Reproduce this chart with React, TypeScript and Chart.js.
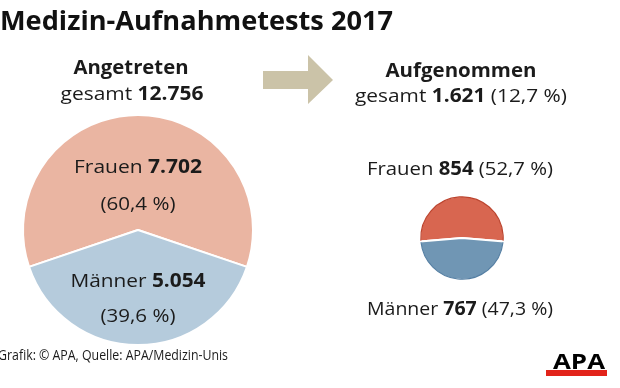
import React, { useEffect, useRef } from "react";
import { Chart, registerables } from "chart.js";
Chart.register(...registerables);

const title = "Medizin-Aufnahmetests 2017";
const groups = ["Frauen", "Männer"];
const enteredValues = [7702, 5054];
const enteredShares = ["60,4 %", "39,6 %"];
const admittedValues = [854, 767];
const admittedShares = ["52,7 %", "47,3 %"];
const enteredTotal = "12.756";
const admittedTotal = "1.621";
const admittedRate = "12,7 %";
const enteredHeading = "Angetreten";
const admittedHeading = "Aufgenommen";
const sourceText = "Grafik: © APA, Quelle: APA/Medizin-Unis";
const logoText = "APA";

const enteredColors = ["#EAB5A2", "#B5CBDC"];
const admittedColors = ["#D86650", "#7096B4"];
const admittedRims = ["#BC442E", "#557FA3"];

const FAM = '"Open Sans", "DejaVu Sans", sans-serif';

const fmt = (n: number) => String(n).replace(/\B(?=(\d{3})+(?!\d))/g, ".");

type Seg = [string, boolean];

function drawLine(
  ctx: CanvasRenderingContext2D,
  segs: Seg[],
  x: number,
  baseline: number,
  size: number,
  target: number,
  align: "center" | "left" = "center",
  color = "#1b1b1b"
) {
  const widths = segs.map(([t, b]) => {
    ctx.font = `${b ? "bold " : ""}${size}px ${FAM}`;
    return ctx.measureText(t).width;
  });
  const total = widths.reduce((a, b) => a + b, 0);
  const s = target / total;
  ctx.save();
  const x0 = align === "center" ? x - target / 2 : x;
  ctx.translate(x0, baseline);
  ctx.scale(s, 1);
  ctx.fillStyle = color;
  ctx.textAlign = "left";
  ctx.textBaseline = "alphabetic";
  let cx = 0;
  segs.forEach(([t, b], i) => {
    ctx.font = `${b ? "bold " : ""}${size}px ${FAM}`;
    ctx.fillText(t, cx, 0);
    cx += widths[i];
  });
  ctx.restore();
}

// thin darker rim along the outer edge of each slice (as in the reference)
const rimPlugin = {
  id: "rim",
  afterDatasetsDraw(chart: any) {
    const ctx: CanvasRenderingContext2D = chart.ctx;
    const meta = chart.getDatasetMeta(0);
    meta.data.forEach((arc: any, i: number) => {
      const { x, y, startAngle, endAngle, outerRadius } = arc.getProps(
        ["x", "y", "startAngle", "endAngle", "outerRadius"],
        true
      );
      ctx.save();
      ctx.strokeStyle = admittedRims[i];
      ctx.lineWidth = 1.2;
      ctx.beginPath();
      ctx.arc(x, y, outerRadius - 0.8, startAngle + 0.02, endAngle - 0.02);
      ctx.stroke();
      ctx.restore();
    });
  },
};

const decorPlugin = {
  id: "decor",
  afterDatasetsDraw(chart: any) {
    const ctx: CanvasRenderingContext2D = chart.ctx;
    drawLine(ctx, [[title, true]], 0, 30, 27, 393, "left", "#111");
    drawLine(ctx, [[enteredHeading, true]], 131, 74, 19, 115);
    drawLine(ctx, [["gesamt ", false], [enteredTotal, true]], 132, 100, 19, 143);
    drawLine(ctx, [[admittedHeading, true]], 461, 77, 19, 151);
    drawLine(
      ctx,
      [["gesamt ", false], [admittedTotal, true], [` (${admittedRate})`, false]],
      461,
      102,
      19,
      212
    );
    drawLine(ctx, [[groups[0] + " ", false], [fmt(enteredValues[0]), true]], 138, 173, 19, 128);
    drawLine(ctx, [[`(${enteredShares[0]})`, false]], 138, 210, 19, 75);
    drawLine(ctx, [[groups[1] + " ", false], [fmt(enteredValues[1]), true]], 138, 287, 19, 135);
    drawLine(ctx, [[`(${enteredShares[1]})`, false]], 138, 322, 19, 75);
    drawLine(
      ctx,
      [[groups[0] + " ", false], [fmt(admittedValues[0]), true], [` (${admittedShares[0]})`, false]],
      460,
      175,
      19,
      186
    );
    drawLine(
      ctx,
      [[groups[1] + " ", false], [fmt(admittedValues[1]), true], [` (${admittedShares[1]})`, false]],
      460,
      315,
      19,
      186
    );
    drawLine(ctx, [[sourceText, false]], -2, 360, 14, 230, "left", "#1b1b1b");
    ctx.save();
    ctx.fillStyle = "#CBC3A8";
    ctx.beginPath();
    ctx.moveTo(263, 71);
    ctx.lineTo(308, 71);
    ctx.lineTo(308, 55);
    ctx.lineTo(333, 80);
    ctx.lineTo(308, 104);
    ctx.lineTo(308, 89);
    ctx.lineTo(263, 89);
    ctx.closePath();
    ctx.fill();
    ctx.fillStyle = "#E2231A";
    ctx.fillRect(546, 370, 61, 6);
    ctx.restore();
    drawLine(ctx, [[logoText, true]], 553, 369, 22, 52, "left", "#000");
  },
};

export default function App() {
  const bigRef = useRef<HTMLCanvasElement>(null);
  const smallRef = useRef<HTMLCanvasElement>(null);

  useEffect(() => {
    const sumE = enteredValues.reduce((a, b) => a + b, 0);
    const sumA = admittedValues.reduce((a, b) => a + b, 0);
    const big = new Chart(bigRef.current!, {
      type: "pie",
      data: {
        labels: groups,
        datasets: [
          {
            data: enteredValues,
            backgroundColor: enteredColors,
            borderColor: "#ffffff",
            borderWidth: 2,
          },
        ],
      },
      options: {
        responsive: false,
        animation: false,
        rotation: (-enteredValues[0] / sumE) * 180,
        radius: 115,
        layout: { padding: { left: 23, right: 367, top: 115, bottom: 43 } },
        plugins: { legend: { display: false }, tooltip: { enabled: false } },
      } as any,
      plugins: [decorPlugin],
    });
    const small = new Chart(smallRef.current!, {
      type: "pie",
      data: {
        labels: groups,
        datasets: [
          {
            data: admittedValues,
            backgroundColor: admittedColors,
            borderColor: "#ffffff",
            borderWidth: 2,
          },
        ],
      },
      options: {
        responsive: false,
        animation: false,
        rotation: (-admittedValues[0] / sumA) * 180,
        radius: 42,
        layout: { padding: { left: 420, right: 116, top: 196, bottom: 108 } },
        plugins: { legend: { display: false }, tooltip: { enabled: false } },
      } as any,
      plugins: [rimPlugin],
    });
    return () => {
      big.destroy();
      small.destroy();
    };
  }, []);

  return (
    <div
      style={{
        position: "absolute",
        left: 0,
        top: 0,
        width: 620,
        height: 388,
        background: "#fff",
        overflow: "hidden",
      }}
    >
      <canvas
        ref={bigRef}
        width={620}
        height={388}
        style={{ position: "absolute", left: 0, top: 0, width: 620, height: 388 }}
      />
      <canvas
        ref={smallRef}
        width={620}
        height={388}
        style={{ position: "absolute", left: 0, top: 0, width: 620, height: 388 }}
      />
    </div>
  );
}
